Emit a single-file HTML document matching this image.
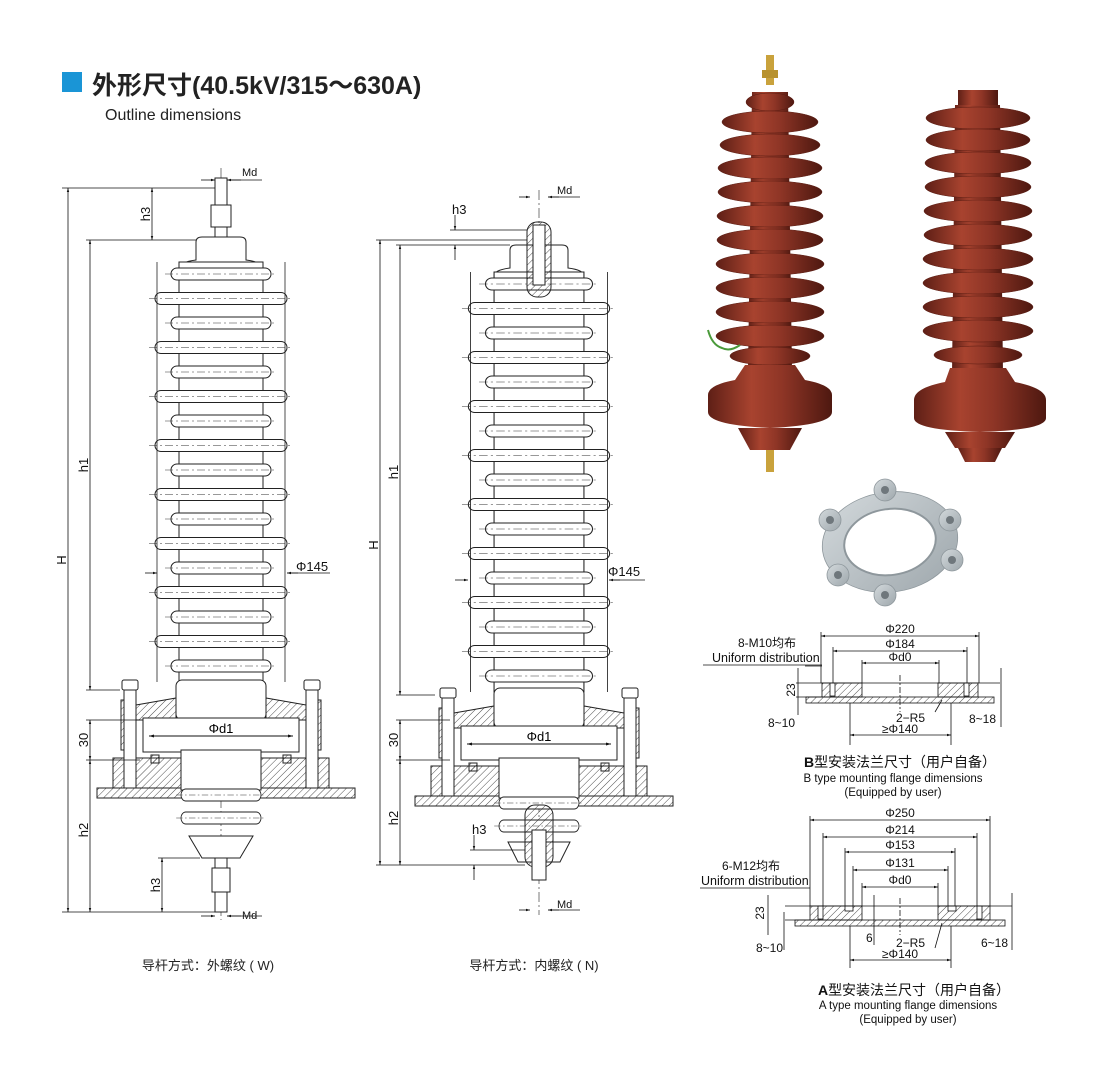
<!DOCTYPE html>
<html><head><meta charset="utf-8"><style>
body{margin:0;background:#fff;}
svg{display:block;font-family:"Liberation Sans","Noto Sans CJK SC",sans-serif;}
</style></head><body>
<svg width="1116" height="1067" viewBox="0 0 1116 1067" xmlns="http://www.w3.org/2000/svg">
<defs>
<linearGradient id="br" x1="0" x2="1" y1="0" y2="0"><stop offset="0" stop-color="#5e1f16"/><stop offset="0.35" stop-color="#a8432f"/><stop offset="0.6" stop-color="#8e3526"/><stop offset="1" stop-color="#4e1810"/></linearGradient>
<linearGradient id="gr" x1="0" x2="1" y1="0" y2="1"><stop offset="0" stop-color="#d3d9dc"/><stop offset="1" stop-color="#9ea7ac"/></linearGradient>
<pattern id="h" width="5" height="5" patternUnits="userSpaceOnUse" patternTransform="rotate(45)"><line x1="0" y1="0" x2="0" y2="5" stroke="#222" stroke-width="0.8"/></pattern>
<marker id="a" viewBox="0 0 10 10" refX="10" refY="5" markerWidth="7" markerHeight="5" orient="auto-start-reverse"><path d="M0,2L10,5L0,8z" fill="#111"/></marker>
<g id="sb"><rect x="-66" y="-6" width="132" height="12" rx="6" fill="#fff" stroke="#222" stroke-width="1"/><line x1="-72" y1="0" x2="72" y2="0" stroke="#333" stroke-width="0.6" stroke-dasharray="8 3 2 3"/></g>
<g id="ss"><rect x="-50" y="-6" width="100" height="12" rx="6" fill="#fff" stroke="#222" stroke-width="1"/><line x1="-56" y1="0" x2="56" y2="0" stroke="#333" stroke-width="0.6" stroke-dasharray="8 3 2 3"/></g>
<g id="body">
<rect x="-42" y="0" width="84" height="420" fill="#fff" stroke="#222"/>
<use href="#ss" y="12"/><use href="#sb" y="36.5"/><use href="#ss" y="61"/><use href="#sb" y="85.5"/><use href="#ss" y="110"/><use href="#sb" y="134.5"/><use href="#ss" y="159"/><use href="#sb" y="183.5"/><use href="#ss" y="208"/><use href="#sb" y="232.5"/><use href="#ss" y="257"/><use href="#sb" y="281.5"/><use href="#ss" y="306"/><use href="#sb" y="330.5"/><use href="#ss" y="355"/><use href="#sb" y="379.5"/><use href="#ss" y="404"/>
<line x1="-64" y1="0" x2="-64" y2="420" stroke="#222" stroke-width="0.8"/><line x1="64" y1="0" x2="64" y2="420" stroke="#222" stroke-width="0.8"/>
</g>
<g id="base">
<rect x="-45" y="0" width="90" height="40" rx="6" fill="#fff" stroke="#222"/>
<path d="M-85,25 L-45,18 L-45,40 L-85,40Z" fill="url(#h)" stroke="#222"/>
<path d="M85,25 L45,18 L45,40 L85,40Z" fill="url(#h)" stroke="#222"/>
<rect x="-78" y="38" width="156" height="34" fill="#fff" stroke="#222"/>
<rect x="-100" y="20" width="14" height="50" fill="url(#h)" stroke="#222"/>
<rect x="86" y="20" width="14" height="50" fill="url(#h)" stroke="#222"/>
<rect x="-108" y="78" width="68" height="30" fill="url(#h)" stroke="#222"/>
<rect x="40" y="78" width="68" height="30" fill="url(#h)" stroke="#222"/>
<rect x="-124" y="108" width="258" height="10" fill="url(#h)" stroke="#222"/>
<rect x="-97" y="8" width="12" height="100" fill="#fff" stroke="#222"/>
<rect x="85" y="8" width="12" height="100" fill="#fff" stroke="#222"/>
<rect x="-99" y="0" width="16" height="10" rx="2" fill="#fff" stroke="#222"/>
<rect x="83" y="0" width="16" height="10" rx="2" fill="#fff" stroke="#222"/>
<rect x="-40" y="70" width="80" height="40" fill="#fff" stroke="#222"/>
<use href="#ss" y="115" transform="scale(0.8,1)"/><use href="#ss" y="138" transform="scale(0.8,1)"/>
<rect x="-70" y="75" width="8" height="8" fill="url(#h)" stroke="#222"/><rect x="62" y="75" width="8" height="8" fill="url(#h)" stroke="#222"/>
<line x1="-72" y1="56" x2="72" y2="56" stroke="#111" marker-start="url(#a)" marker-end="url(#a)"/>
<text x="0" y="53" font-size="13" text-anchor="middle">Φd1</text>
</g>
</defs>

<rect x="62" y="72" width="20" height="20" fill="#1a95d6"/>
<text x="92" y="94" font-size="25" font-weight="bold" fill="#222">外形尺寸(40.5kV/315～630A)</text>
<text x="105" y="120" font-size="16" fill="#222">Outline dimensions</text>

<!-- Arrester 1 -->
<line x1="221" y1="168" x2="221" y2="920" stroke="#222" stroke-width="0.6" stroke-dasharray="10 3 2 3"/>
<rect x="215" y="178" width="12" height="60" fill="#fff" stroke="#222"/>
<rect x="211" y="205" width="20" height="22" fill="#fff" stroke="#222"/>
<path d="M196,260 L196,242 Q196,237 202,237 L240,237 Q246,237 246,242 L246,260 Q262,262 262,268 L180,268 Q180,262 196,260Z" fill="#fff" stroke="#222"/>
<use href="#body" x="221" y="262"/>
<use href="#base" x="221" y="680"/>
<path d="M189,836 L253,836 L240,858 L202,858Z" fill="#fff" stroke="#222"/>
<rect x="215" y="858" width="12" height="54" fill="#fff" stroke="#222"/>
<rect x="212" y="868" width="18" height="24" fill="#fff" stroke="#222"/>
<g stroke="#111" stroke-width="0.8" fill="none">
<line x1="62" y1="188" x2="215" y2="188"/><line x1="62" y1="912" x2="215" y2="912"/>
<line x1="68" y1="188" x2="68" y2="912" marker-start="url(#a)" marker-end="url(#a)"/>
<line x1="86" y1="240" x2="196" y2="240"/><line x1="86" y1="690" x2="120" y2="690"/>
<line x1="90" y1="240" x2="90" y2="690" marker-start="url(#a)" marker-end="url(#a)"/>
<line x1="152" y1="188" x2="152" y2="240" marker-start="url(#a)" marker-end="url(#a)"/>
<line x1="86" y1="720" x2="140" y2="720"/><line x1="86" y1="760" x2="140" y2="760"/>
<line x1="90" y1="720" x2="90" y2="760" marker-start="url(#a)" marker-end="url(#a)"/>
<line x1="90" y1="760" x2="90" y2="912" marker-start="url(#a)" marker-end="url(#a)"/>
<line x1="158" y1="858" x2="200" y2="858"/>
<line x1="162" y1="858" x2="162" y2="912" marker-start="url(#a)" marker-end="url(#a)"/>
<line x1="201" y1="180" x2="215" y2="180" marker-end="url(#a)"/><line x1="241" y1="180" x2="227" y2="180" marker-end="url(#a)"/><line x1="227" y1="180" x2="262" y2="180"/>
<line x1="201" y1="916" x2="215" y2="916" marker-end="url(#a)"/><line x1="241" y1="916" x2="227" y2="916" marker-end="url(#a)"/><line x1="227" y1="916" x2="262" y2="916"/>
<line x1="145" y1="573" x2="157" y2="573" marker-end="url(#a)"/><line x1="298" y1="573" x2="287" y2="573" marker-end="url(#a)"/><line x1="287" y1="573" x2="330" y2="573"/>
</g>
<g font-size="13" fill="#111">
<text transform="translate(66,560) rotate(-90)" text-anchor="middle">H</text>
<text transform="translate(88,465) rotate(-90)" text-anchor="middle">h1</text>
<text transform="translate(150,214) rotate(-90)" text-anchor="middle">h3</text>
<text transform="translate(88,740) rotate(-90)" text-anchor="middle">30</text>
<text transform="translate(88,830) rotate(-90)" text-anchor="middle">h2</text>
<text transform="translate(160,885) rotate(-90)" text-anchor="middle">h3</text>
<text x="242" y="176" font-size="11">Md</text>
<text x="242" y="919" font-size="11">Md</text>
<text x="296" y="571">Φ145</text>
</g>

<!-- Arrester 2 -->
<line x1="539" y1="190" x2="539" y2="915" stroke="#222" stroke-width="0.6" stroke-dasharray="10 3 2 3"/>
<path d="M510,268 L510,250 Q510,245 516,245 L562,245 Q568,245 568,250 L568,268 Q584,270 584,276 L494,276 Q494,270 510,268Z" fill="#fff" stroke="#222"/>
<use href="#body" transform="translate(539,272) scale(1.07,1)"/>
<rect x="527" y="222" width="24" height="75" rx="10" fill="url(#h)" stroke="#222"/>
<rect x="533" y="225" width="12" height="60" fill="#fff" stroke="#222"/>
<use href="#base" x="539" y="688"/>
<path d="M508,842 L570,842 L560,862 L518,862Z" fill="#fff" stroke="#222"/>
<rect x="525" y="805" width="28" height="62" rx="10" fill="url(#h)" stroke="#222"/>
<rect x="532" y="830" width="14" height="50" fill="#fff" stroke="#222"/>
<g stroke="#111" stroke-width="0.8" fill="none">
<line x1="376" y1="240" x2="527" y2="240"/><line x1="376" y1="865" x2="525" y2="865"/>
<line x1="380" y1="240" x2="380" y2="865" marker-start="url(#a)" marker-end="url(#a)"/>
<line x1="396" y1="245" x2="510" y2="245"/><line x1="396" y1="695" x2="435" y2="695"/>
<line x1="400" y1="245" x2="400" y2="695" marker-start="url(#a)" marker-end="url(#a)"/>
<line x1="455" y1="215" x2="455" y2="230" marker-end="url(#a)"/><line x1="455" y1="260" x2="455" y2="245" marker-end="url(#a)"/>
<line x1="450" y1="230" x2="527" y2="230"/>
<line x1="396" y1="720" x2="450" y2="720"/><line x1="396" y1="760" x2="450" y2="760"/>
<line x1="400" y1="720" x2="400" y2="760" marker-start="url(#a)" marker-end="url(#a)"/>
<line x1="400" y1="760" x2="400" y2="865" marker-start="url(#a)" marker-end="url(#a)"/>
<line x1="470" y1="850" x2="525" y2="850"/>
<line x1="474" y1="835" x2="474" y2="850" marker-end="url(#a)"/><line x1="474" y1="880" x2="474" y2="865" marker-end="url(#a)"/>
<line x1="519" y1="197" x2="530" y2="197" marker-end="url(#a)"/><line x1="559" y1="197" x2="548" y2="197" marker-end="url(#a)"/><line x1="548" y1="197" x2="580" y2="197"/>
<line x1="519" y1="910" x2="530" y2="910" marker-end="url(#a)"/><line x1="559" y1="910" x2="548" y2="910" marker-end="url(#a)"/><line x1="548" y1="910" x2="580" y2="910"/>
<line x1="455" y1="580" x2="468" y2="580" marker-end="url(#a)"/><line x1="620" y1="580" x2="609" y2="580" marker-end="url(#a)"/><line x1="609" y1="580" x2="645" y2="580"/>
</g>
<g font-size="13" fill="#111">
<text transform="translate(378,545) rotate(-90)" text-anchor="middle">H</text>
<text transform="translate(398,472) rotate(-90)" text-anchor="middle">h1</text>
<text x="452" y="214">h3</text>
<text transform="translate(398,740) rotate(-90)" text-anchor="middle">30</text>
<text transform="translate(398,818) rotate(-90)" text-anchor="middle">h2</text>
<text x="472" y="834">h3</text>
<text x="557" y="194" font-size="11">Md</text>
<text x="557" y="908" font-size="11">Md</text>
<text x="608" y="576">Φ145</text>
</g>

<text x="208" y="970" font-size="13" text-anchor="middle" fill="#222">导杆方式：外螺纹 ( W)</text>
<text x="534" y="970" font-size="13" text-anchor="middle" fill="#222">导杆方式：内螺纹 ( N)</text>

<!-- Photo arrester 1 -->
<g>
<rect x="766" y="55" width="8" height="30" fill="#c9a23c"/>
<rect x="762" y="70" width="16" height="8" fill="#b8922f"/>
<path d="M752,92 L788,92 L792,370 L748,370Z" fill="url(#br)"/>
<g fill="url(#br)" stroke="#5a1c12" stroke-width="0.5">
<ellipse cx="770" cy="102" rx="24" ry="9"/>
<ellipse cx="770" cy="122" rx="48" ry="11"/><ellipse cx="770" cy="145" rx="50" ry="11"/><ellipse cx="770" cy="168" rx="52" ry="11"/><ellipse cx="770" cy="192" rx="52" ry="11"/><ellipse cx="770" cy="216" rx="53" ry="11"/><ellipse cx="770" cy="240" rx="53" ry="11"/><ellipse cx="770" cy="264" rx="54" ry="11"/><ellipse cx="770" cy="288" rx="54" ry="11"/><ellipse cx="770" cy="312" rx="54" ry="11"/><ellipse cx="770" cy="336" rx="54" ry="11"/><ellipse cx="770" cy="356" rx="40" ry="9"/>
</g>
<path d="M745,365 L795,365 L805,380 Q832,385 832,395 L832,412 Q832,425 770,428 Q708,425 708,412 L708,395 Q708,385 735,380Z" fill="url(#br)"/>
<path d="M738,428 L802,428 L790,450 L750,450Z" fill="url(#br)"/>
<rect x="766" y="450" width="8" height="22" fill="#c9a23c"/>
<path d="M708,330 Q712,345 722,348 Q730,352 740,345" stroke="#4a9a3a" stroke-width="2" fill="none"/>
</g>
<!-- Photo arrester 2 -->
<g>
<rect x="958" y="90" width="40" height="18" fill="url(#br)"/>
<path d="M955,105 L1000,105 L1003,375 L952,375Z" fill="url(#br)"/>
<g fill="url(#br)" stroke="#5a1c12" stroke-width="0.5">
<ellipse cx="978" cy="118" rx="52" ry="11"/><ellipse cx="978" cy="140" rx="52" ry="11"/><ellipse cx="978" cy="163" rx="53" ry="11"/><ellipse cx="978" cy="187" rx="53" ry="11"/><ellipse cx="978" cy="211" rx="54" ry="11"/><ellipse cx="978" cy="235" rx="54" ry="11"/><ellipse cx="978" cy="259" rx="55" ry="11"/><ellipse cx="978" cy="283" rx="55" ry="11"/><ellipse cx="978" cy="307" rx="55" ry="11"/><ellipse cx="978" cy="331" rx="55" ry="11"/><ellipse cx="978" cy="355" rx="44" ry="9"/>
</g>
<path d="M950,368 L1006,368 L1015,382 Q1046,388 1046,400 L1046,418 Q1046,430 980,432 Q914,430 914,418 L914,400 Q914,388 945,382Z" fill="url(#br)"/>
<path d="M945,432 L1015,432 L1005,448 L955,448Z" fill="url(#br)"/>
<path d="M958,448 L1002,448 L995,462 L965,462Z" fill="url(#br)"/>
</g>
<!-- Flange photo -->
<g>
<g fill="url(#gr)" stroke="#8e979c" stroke-width="0.8">
<ellipse cx="890" cy="542" rx="68" ry="50" transform="rotate(-8 890 542)"/>
<circle cx="830" cy="520" r="11"/><circle cx="885" cy="490" r="11"/><circle cx="950" cy="520" r="11"/><circle cx="952" cy="560" r="11"/><circle cx="885" cy="595" r="11"/><circle cx="838" cy="575" r="11"/>
</g>
<ellipse cx="890" cy="542" rx="46" ry="33" transform="rotate(-8 890 542)" fill="#fff" stroke="#8e979c" stroke-width="2"/>
<g fill="#6f777c">
<circle cx="830" cy="520" r="4"/><circle cx="885" cy="490" r="4"/><circle cx="950" cy="520" r="4"/><circle cx="952" cy="560" r="4"/><circle cx="885" cy="595" r="4"/><circle cx="838" cy="575" r="4"/>
</g>
</g>

<!-- Flange B -->
<g stroke="#111" stroke-width="0.8">
<rect x="822" y="683" width="40" height="14" fill="url(#h)"/><rect x="938" y="683" width="40" height="14" fill="url(#h)"/>
<rect x="806" y="697" width="188" height="6" fill="url(#h)"/>
<rect x="830" y="683" width="5" height="13" fill="#fff"/><rect x="964" y="683" width="5" height="13" fill="#fff"/>
<line x1="900" y1="675" x2="900" y2="712" stroke-dasharray="6 2 2 2"/>
<line x1="796" y1="683" x2="1000" y2="683"/><line x1="796" y1="697" x2="822" y2="697"/>
<line x1="821" y1="632" x2="821" y2="683"/><line x1="979" y1="632" x2="979" y2="683"/>
<line x1="833" y1="647" x2="833" y2="683"/><line x1="967" y1="647" x2="967" y2="683"/>
<line x1="862" y1="660" x2="862" y2="683"/><line x1="939" y1="660" x2="939" y2="683"/>
<line x1="821" y1="636" x2="979" y2="636" marker-start="url(#a)" marker-end="url(#a)"/>
<line x1="833" y1="651" x2="967" y2="651" marker-start="url(#a)" marker-end="url(#a)"/>
<line x1="862" y1="663" x2="939" y2="663" marker-start="url(#a)" marker-end="url(#a)"/>
<line x1="850" y1="703" x2="850" y2="745"/><line x1="951" y1="703" x2="951" y2="745"/>
<line x1="850" y1="735" x2="951" y2="735" marker-start="url(#a)" marker-end="url(#a)"/>
<line x1="798" y1="668" x2="798" y2="715"/><line x1="1001" y1="668" x2="1001" y2="727"/>
<line x1="805" y1="666" x2="822" y2="666"/>
<line x1="935" y1="712" x2="942" y2="700"/>
<line x1="703" y1="665" x2="822" y2="665"/>
</g>
<g font-size="12" fill="#111">
<text x="900" y="633" text-anchor="middle">Φ220</text>
<text x="900" y="648" text-anchor="middle">Φ184</text>
<text x="900" y="661" text-anchor="middle">Φd0</text>
<text x="900" y="733" text-anchor="middle">≥Φ140</text>
<text x="738" y="647">8-M10均布</text>
<text x="712" y="662" font-size="12.5">Uniform distribution</text>
<text transform="translate(795,690) rotate(-90)" text-anchor="middle">23</text>
<text x="768" y="727">8~10</text>
<text x="896" y="722">2−R5</text>
<text x="969" y="723">8~18</text>
<text x="900" y="767" font-size="14" text-anchor="middle"><tspan font-weight="bold">B</tspan>型安装法兰尺寸（用户自备）</text>
<text x="893" y="782" font-size="11.5" text-anchor="middle">B type mounting flange dimensions</text>
<text x="893" y="796" font-size="11.5" text-anchor="middle">(Equipped by user)</text>
</g>

<!-- Flange A -->
<g stroke="#111" stroke-width="0.8">
<rect x="810" y="906" width="52" height="14" fill="url(#h)"/><rect x="938" y="906" width="52" height="14" fill="url(#h)"/>
<rect x="795" y="920" width="210" height="6" fill="url(#h)"/>
<rect x="818" y="906" width="5" height="13" fill="#fff"/><rect x="977" y="906" width="5" height="13" fill="#fff"/>
<rect x="845" y="906" width="8" height="5" fill="#fff"/><rect x="948" y="906" width="8" height="5" fill="#fff"/>
<line x1="900" y1="898" x2="900" y2="935" stroke-dasharray="6 2 2 2"/>
<line x1="785" y1="906" x2="1012" y2="906"/><line x1="785" y1="920" x2="810" y2="920"/>
<line x1="810" y1="816" x2="810" y2="906"/><line x1="990" y1="816" x2="990" y2="906"/>
<line x1="823" y1="833" x2="823" y2="906"/><line x1="977" y1="833" x2="977" y2="906"/>
<line x1="845" y1="848" x2="845" y2="906"/><line x1="955" y1="848" x2="955" y2="906"/>
<line x1="853" y1="866" x2="853" y2="906"/><line x1="948" y1="866" x2="948" y2="906"/>
<line x1="862" y1="883" x2="862" y2="906"/><line x1="938" y1="883" x2="938" y2="906"/>
<line x1="810" y1="820" x2="990" y2="820" marker-start="url(#a)" marker-end="url(#a)"/>
<line x1="823" y1="837" x2="977" y2="837" marker-start="url(#a)" marker-end="url(#a)"/>
<line x1="845" y1="852" x2="955" y2="852" marker-start="url(#a)" marker-end="url(#a)"/>
<line x1="853" y1="870" x2="948" y2="870" marker-start="url(#a)" marker-end="url(#a)"/>
<line x1="862" y1="887" x2="938" y2="887" marker-start="url(#a)" marker-end="url(#a)"/>
<line x1="850" y1="926" x2="850" y2="968"/><line x1="951" y1="926" x2="951" y2="968"/>
<line x1="850" y1="960" x2="951" y2="960" marker-start="url(#a)" marker-end="url(#a)"/>
<line x1="768" y1="895" x2="768" y2="935"/><line x1="784" y1="912" x2="784" y2="950"/>
<line x1="1012" y1="893" x2="1012" y2="950"/>
<line x1="874" y1="895" x2="874" y2="945"/>
<line x1="700" y1="888" x2="810" y2="888"/>
<line x1="935" y1="948" x2="942" y2="923"/>
</g>
<g font-size="12" fill="#111">
<text x="900" y="817" text-anchor="middle">Φ250</text>
<text x="900" y="834" text-anchor="middle">Φ214</text>
<text x="900" y="849" text-anchor="middle">Φ153</text>
<text x="900" y="867" text-anchor="middle">Φ131</text>
<text x="900" y="884" text-anchor="middle">Φd0</text>
<text x="900" y="958" text-anchor="middle">≥Φ140</text>
<text x="722" y="870">6-M12均布</text>
<text x="701" y="885" font-size="12.5">Uniform distribution</text>
<text transform="translate(764,913) rotate(-90)" text-anchor="middle">23</text>
<text x="756" y="952">8~10</text>
<text x="866" y="942">6</text>
<text x="896" y="947">2−R5</text>
<text x="981" y="947">6~18</text>
<text x="914" y="995" font-size="14" text-anchor="middle"><tspan font-weight="bold">A</tspan>型安装法兰尺寸（用户自备）</text>
<text x="908" y="1009" font-size="11.5" text-anchor="middle">A type mounting flange dimensions</text>
<text x="908" y="1023" font-size="11.5" text-anchor="middle">(Equipped by user)</text>
</g>
</svg>
</body></html>
